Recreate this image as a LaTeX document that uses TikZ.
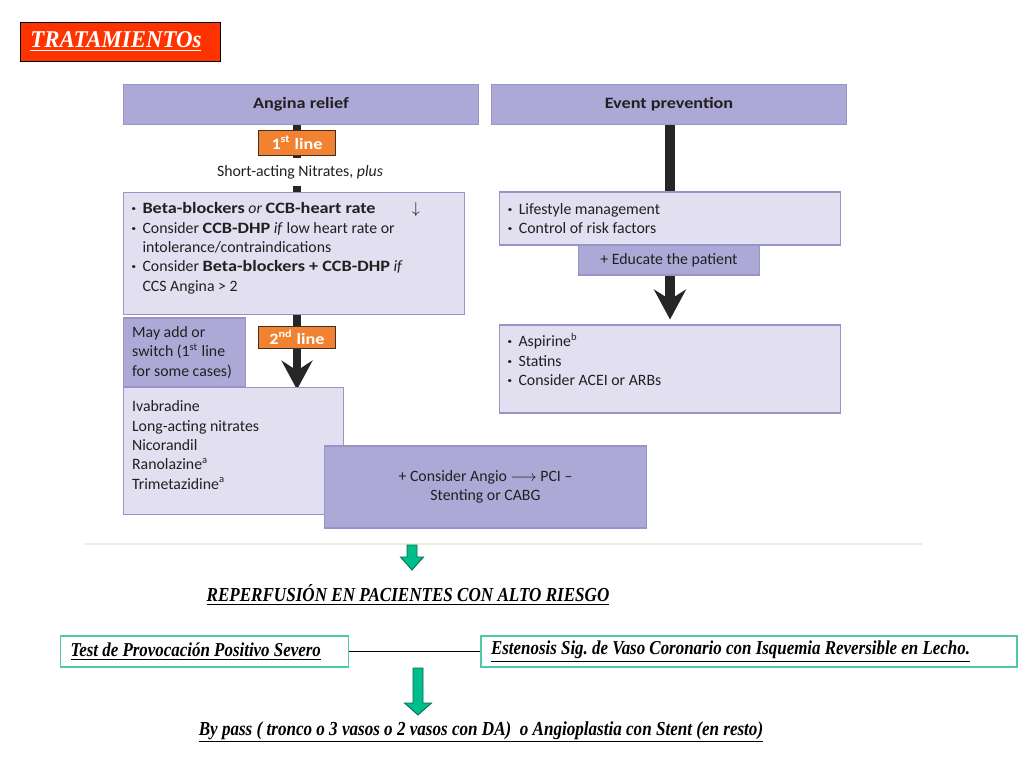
\documentclass[tikz,border=0pt]{standalone}
\usepackage{fontspec}
\setmainfont{Carlito}[BoldFeatures={FakeStretch=1.15}]
\newfontfamily\narrowserif[FakeStretch=0.86]{Liberation Serif}
\newfontfamily\titleserif[FakeStretch=0.95]{Liberation Serif}
\usetikzlibrary{arrows.meta,backgrounds}

\definecolor{lavmid}{RGB}{173,169,214}
\definecolor{lavlight}{RGB}{225,223,240}
\definecolor{lavborder}{RGB}{152,148,200}
\definecolor{orangefill}{RGB}{241,130,50}
\definecolor{orangeborder}{RGB}{70,45,30}
\definecolor{titlered}{RGB}{255,51,0}
\definecolor{inktext}{RGB}{35,31,32}
\definecolor{gfill}{RGB}{0,190,140}
\definecolor{gline}{RGB}{0,110,80}
\definecolor{tealline}{RGB}{80,200,170}
\definecolor{faintline}{RGB}{238,236,218}

\newcommand{\pxu}{0.5669pt}
\newcommand{\bul}{{\bfseries·}\hspace{0.4em}}

\begin{document}
\begin{tikzpicture}
	[x=0.02cm, y=-0.02cm, text=inktext, font=\fontsize{9}{11}\selectfont,
	boxsize/.style 2 args={minimum width=#1*\pxu, minimum height=#2*\pxu},
	hdr/.style={draw=lavborder, fill=lavmid, inner sep=0pt, font=\fontsize{9}{11}\selectfont\bfseries},
	pbox/.style={draw=lavborder, fill=lavlight, line width=0.8pt, inner sep=0pt},
	mbox/.style={draw=lavborder, fill=lavmid, line width=0.8pt, inner sep=0pt},
	orangebox/.style={draw=orangeborder, fill=orangefill, text=white, inner sep=0pt, font=\fontsize{9}{11}\selectfont\bfseries},
	btext/.style={anchor=north west, align=flush left, inner sep=0pt},
	bar/.style={draw=black!85, line width=9*\pxu},
	garrow/.style={draw=gline, fill=gfill, line width=0.5pt, line join=miter},
	tbox/.style={draw=tealline, fill=white, line width=0.8pt, inner sep=0pt, align=flush left,
		font=\narrowserif\bfseries\itshape\fontsize{11.2}{13}\selectfont\frenchspacing, text=black},
	ul/.style={inner sep=0pt, text=black, font=\narrowserif\bfseries\itshape\fontsize{11.3}{13}\selectfont}]
	\useasboundingbox (0,0) rectangle (1024,768);
	\node[draw=black, fill=titlered, boxsize={201}{39}, text width=181*\pxu, align=flush left, inner sep=0pt, text=white,
		font=\titleserif\bfseries\itshape\fontsize{13.7}{16}\selectfont] (title) at (120.5,41.5) {\underline{TRATAMIENTOs}};
	\node[hdr, boxsize={356}{40}] (hdrA) at (301,104) {Angina relief};
	\node[hdr, boxsize={356}{40}] (hdrB) at (669,104) {Event prevention};
	\node[orangebox, boxsize={78}{25}] (line1) at (297,142.5) {1\textsuperscript{st} line};
	\node[fill=white, inner sep=0pt, minimum height=28*\pxu] (nitr) at (300,172) {Short-acting Nitrates, \textit{plus}};
	\node[pbox, boxsize={342}{123}] (b1) at (294,253.5) {};
	\node[btext] (b1txt) at ([shift={(8,11)}]b1.north west) {%
		\bul\textbf{Beta-blockers} \textit{or} \textbf{CCB-heart rate}\hspace{2.3em}$\downarrow$\\
		\bul Consider \textbf{CCB-DHP} \textit{if} low heart rate or\\
		\hphantom{\bul}intolerance/contraindications\\
		\bul Consider \textbf{Beta-blockers + CCB-DHP} \textit{if}\\
		\hphantom{\bul}CCS Angina > 2};
	\node[mbox, boxsize={123}{69}, align=flush left, text width=105*\pxu] (mayadd) at (184.5,352.5)
		{May add or\\switch (1\textsuperscript{st} line\\for some cases)};
	\node[orangebox, boxsize={78}{22}] (line2) at (297,337) {2\textsuperscript{nd} line};
	\node[pbox, boxsize={221}{128}] (list) at (233.5,451) {};
	\node[btext] (listtxt) at ([shift={(9,14)}]list.north west)
		{Ivabradine\\Long-acting nitrates\\Nicorandil\\Ranolazine\textsuperscript{a}\\Trimetazidine\textsuperscript{a}};
	\node[mbox, boxsize={323}{82}, align=center] (angio) at (485.5,487)
		{+ Consider Angio $\longrightarrow$ PCI --\\Stenting or CABG};
	\node[pbox, boxsize={342}{53}, align=flush left, text width=326*\pxu] (life) at (670,218.5)
		{\bul Lifestyle management\\\bul Control of risk factors};
	\node[mbox, boxsize={182}{30}] (edu) at (669,260) {+ Educate the patient};
	\node[pbox, boxsize={342}{88}] (asp) at (670,369) {};
	\node[btext] (asptxt) at ([shift={(8,8)}]asp.north west)
		{\bul Aspirine\textsuperscript{b}\\\bul Statins\\\bul Consider ACEI or ARBs};
	\begin{scope}[on background layer]
		\fill[white] (0,0) rectangle (1024,768);
		\draw[bar] (hdrA.south -| line1) -- (b1.north -| line1);
		\draw[bar, line width=8*\pxu, -{Stealth[length=29*\pxu, width=31*\pxu, inset=10*\pxu]}]
			(b1.south -| line1) -- ([yshift=-3*\pxu]list.north -| line1);
		\draw[bar, line width=11*\pxu] (hdrB.south -| life) -- (life.north);
	\end{scope}
	\draw[bar, line width=11*\pxu, -{Stealth[length=30*\pxu, width=32*\pxu, inset=10*\pxu]}]
		(edu.south -| life) -- ([yshift=5*\pxu]asp.north);
	\draw[faintline, line width=1.2pt] (85,544) -- (922,544);
	\coordinate (g1) at (412,545);
	\draw[garrow] (g1) ++(-5,0) -- ++(10,0) -- ++(0,12) -- ++(6.5,0) -- ++(-11.5,13) -- ++(-11.5,-13) -- ++(6.5,0) -- cycle;
	\node[ul] (reperf) at (408,595) {\underline{REPERFUSIÓN EN PACIENTES CON ALTO RIESGO}};
	\node[tbox, boxsize={289}{31}, text width=269*\pxu] (test) at (204.5,651.5)
		{\underline{Test de Provocación Positivo Severo}};
	\node[tbox, boxsize={538}{31}, text width=518*\pxu] (esten) at (749,651.5)
		{\underline{Estenosis Sig. de Vaso Coronario con Isquemia Reversible en Lecho.}};
	\draw[black, line width=0.6pt] (test) -- (esten);
	\coordinate (g2) at (418,668);
	\draw[garrow] (g2) ++(-5,0) -- ++(10,0) -- ++(0,35) -- ++(8.5,0) -- ++(-13.5,12) -- ++(-13.5,-12) -- ++(8.5,0) -- cycle;
	\node[ul] (bypass) at (481,732) {\underline{By pass ( tronco o 3 vasos o 2 vasos con DA)\ \ o Angioplastia con Stent (en resto)}};
\end{tikzpicture}
\end{document}
